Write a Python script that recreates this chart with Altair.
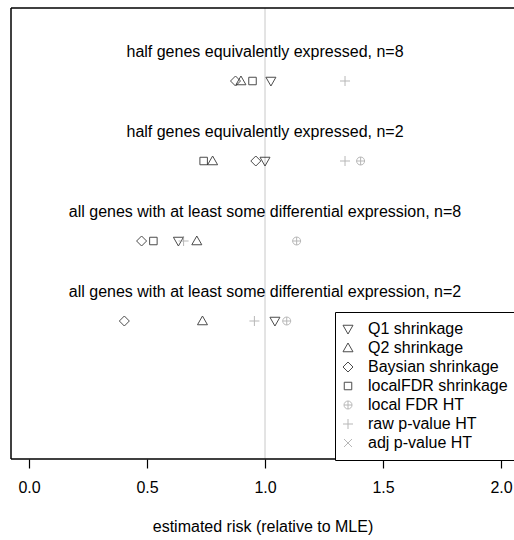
import altair as alt
import pandas as pd
import numpy as np

# ---- data ----
row_labels = [
    "half genes equivalently expressed, n=8",
    "half genes equivalently expressed, n=2",
    "all genes with at least some differential expression, n=8",
    "all genes with at least some differential expression, n=2",
]
row_pos = [4, 3, 2, 1]

methods = ["Q1 shrinkage", "Q2 shrinkage", "Baysian shrinkage", "localFDR shrinkage",
           "local FDR HT", "raw p-value HT", "adj p-value HT"]
nan = np.nan
q1_shrink = [1.025, 1.000, 0.633, 1.042]
q2_shrink = [0.898, 0.778, 0.711, 0.735]
bayes_shrink = [0.875, 0.961, 0.477, 0.404]
lfdr_shrink = [0.947, 0.740, 0.527, nan]
lfdr_ht = [nan, 1.405, 1.134, 1.092]
raw_p_ht = [1.339, 1.339, 0.655, 0.955]
adj_p_ht = [nan, nan, nan, nan]
series = [q1_shrink, q2_shrink, bayes_shrink, lfdr_shrink, lfdr_ht, raw_p_ht, adj_p_ht]

colors = ["black", "black", "black", "black", "#9a9a9a", "#9a9a9a", "#9a9a9a"]
shapes = [
    "M-1,-0.75L1,-0.75L0,1Z",
    "M-1,0.75L1,0.75L0,-1Z",
    "M-1,0L0,-1L1,0L0,1Z",
    "M-0.75,-0.75L0.75,-0.75L0.75,0.75L-0.75,0.75Z",
    "M-0.8,0C-0.8,-0.44,-0.44,-0.8,0,-0.8C0.44,-0.8,0.8,-0.44,0.8,0C0.8,0.44,0.44,0.8,0,0.8C-0.44,0.8,-0.8,0.44,-0.8,0ZM-0.8,0L0.8,0M0,-0.8L0,0.8",
    "M-1,0L1,0M0,-1L0,1",
    "M-0.8,-0.8L0.8,0.8M-0.8,0.8L0.8,-0.8",
]

recs = []
for m, vals in zip(methods, series):
    for y, v in zip(row_pos, vals):
        if not np.isnan(v):
            recs.append({"method": m, "risk": float(v), "row": float(y)})
pts = pd.DataFrame(recs)
labels_df = pd.DataFrame({"label": row_labels, "row": [r + 0.365 for r in row_pos], "risk": [1.0] * 4})
ref_df = pd.DataFrame({"risk": [1.0]})
one = pd.DataFrame({"k": [0]})

FONT = "Liberation Sans"
W, H = 503, 451
xscale = alt.Scale(domain=[-0.0763, 2.055], nice=False, zero=False)
yscale = alt.Scale(domain=[-0.725, 4.9125], nice=False, zero=False)

rule = alt.Chart(ref_df).mark_rule(color="#c8c8c8", strokeWidth=1).encode(
    x=alt.X("risk:Q", scale=xscale)
)

# plot frame (left, top, bottom; right side lies beyond the window as in the reference)
frame_left = alt.Chart(one).mark_rule(color="black", strokeWidth=1.5).encode(
    x=alt.value(0), y=alt.value(0), y2=alt.value(H))
frame_top = alt.Chart(one).mark_rule(color="black", strokeWidth=1.5).encode(
    x=alt.value(0), x2=alt.value(W + 10), y=alt.value(0))
frame_bottom = alt.Chart(one).mark_rule(color="black", strokeWidth=1.5).encode(
    x=alt.value(0), x2=alt.value(W + 10), y=alt.value(H))

points = alt.Chart(pts).mark_point(filled=False, size=100, strokeWidth=1).encode(
    x=alt.X("risk:Q", scale=xscale,
            axis=alt.Axis(values=[0, 0.5, 1.0, 1.5, 2.0], format=".1f", grid=False, domain=False,
                          tickSize=9, tickColor="black", tickWidth=1.2, labelFontSize=16,
                          labelFont=FONT, labelColor="black", labelPadding=11,
                          title="estimated risk (relative to MLE)", titleFontSize=16,
                          titleFont=FONT, titleFontWeight="normal", titleColor="black",
                          titlePadding=23)),
    y=alt.Y("row:Q", scale=yscale, axis=None),
    color=alt.Color("method:N", scale=alt.Scale(domain=methods, range=colors),
                    legend=alt.Legend(orient="none", legendX=324, legendY=304, title="",
                                      labelExpr="datum.label + '   '")),
    shape=alt.Shape("method:N", scale=alt.Scale(domain=methods, range=shapes),
                    legend=alt.Legend(title="")),
)

texts = alt.Chart(labels_df).mark_text(fontSize=16, font=FONT, color="black").encode(
    x=alt.X("risk:Q", scale=xscale),
    y=alt.Y("row:Q", scale=yscale, axis=None),
    text=alt.Text("label:N"),
)

chart = alt.layer(rule, texts, points, frame_left, frame_top, frame_bottom).properties(
    width=W, height=H,
    padding={"left": 11, "top": 8, "right": 0, "bottom": 81},
    autosize=alt.AutoSizeParams(type="none"),
    background="white",
).configure_view(
    strokeWidth=0
).configure_legend(
    strokeColor="black", strokeWidth=1, fillColor="white", padding=9,
    labelFontSize=16, labelFont=FONT, labelColor="black", rowPadding=3,
    symbolSize=100, symbolStrokeWidth=1, labelOffset=12, symbolOffset=-4, cornerRadius=0,
)

chart.save("out.html", embed_options={"renderer": "svg", "actions": False})
